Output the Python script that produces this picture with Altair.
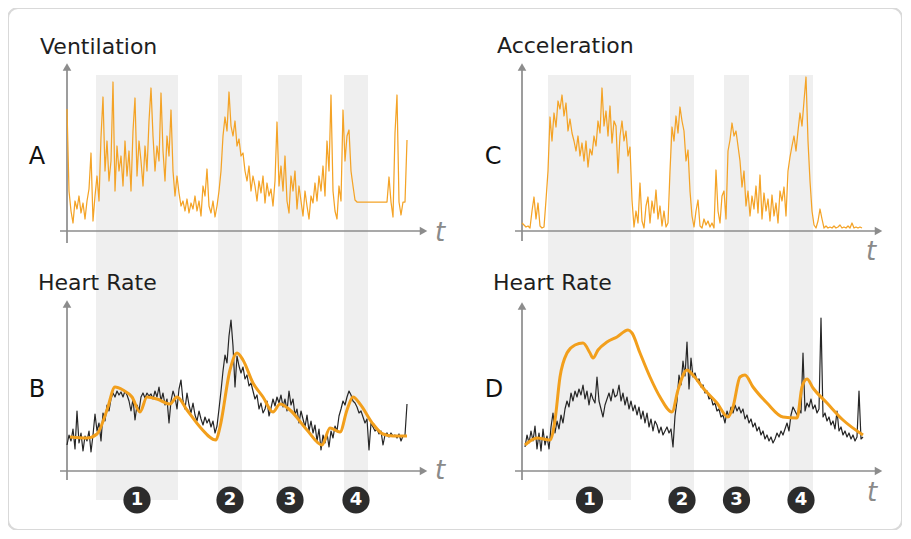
import altair as alt
import pandas as pd

# ---------------- data (time in panel units 0..360, values in panel units) ----------------
BANDS_LEFT_START = [29, 151, 211, 277]
BANDS_LEFT_END = [111, 175, 235, 301]
BANDS_RIGHT_START = [26, 148, 202, 267]
BANDS_RIGHT_END = [109, 172, 227, 291]
BAND_LABELS = ["1", "2", "3", "4"]

# Ventilation (panel A), sampled every 2 time units from t=0
VENT_START, VENT_STEP = 0, 2
VENT = [
    122, 40, 20, 8, 30, 22, 35, 18, 28, 12,
    30, 42, 78, 10, 35, 55, 30, 94, 134, 60,
    90, 50, 70, 149, 40, 85, 60, 75, 45, 90,
    55, 80, 40, 100, 133, 55, 90, 70, 45, 85,
    60, 110, 143, 95, 60, 85, 70, 138, 80, 50,
    95, 75, 121, 60, 35, 55, 38, 25, 30, 20,
    32, 18, 28, 22, 35, 20, 30, 15, 45, 35,
    62, 25, 18, 30, 14, 25, 40, 60, 95, 114,
    100, 139, 105, 95, 110, 85, 92, 75, 78, 60,
    50, 65, 40, 55, 45, 30, 50, 38, 55, 28,
    48, 35, 42, 25, 50, 109, 45, 65, 40, 75,
    30, 18, 55, 40, 60, 22, 45, 30, 15, 40,
    25, 12, 35, 28, 48, 30, 55, 40, 65, 35,
    90, 60, 136, 40, 20, 12, 45, 30, 121, 70,
    95, 101, 60, 45, 31, 29, 29, 29, 29, 29,
    29, 29, 29, 29, 29, 29, 29, 29, 29, 29,
    29, 54, 29, 14, 98, 136, 29, 16, 29, 29,
    91,
]

# Acceleration (panel C), every 2 time units from t=0
ACC_START, ACC_STEP = 0, 2
ACC = [
    8, 6, 4, 5, 3, 20, 34, 12, 28, 5,
    3, 4, 31, 60, 114, 90, 118, 104, 130, 122,
    136, 115, 128, 100, 112, 98, 90, 80, 95, 75,
    88, 70, 90, 64, 82, 76, 95, 85, 110, 98,
    143, 105, 120, 95, 125, 88, 110, 105, 58, 95,
    110, 90, 100, 75, 84, 31, 4, 20, 8, 48,
    10, 3, 25, 34, 8, 30, 18, 41, 12, 25,
    5, 20, 4, 8, 60, 104, 90, 115, 98, 124,
    110, 100, 70, 81, 40, 15, 4, 20, 31, 5,
    3, 12, 6, 10, 4, 8, 3, 61, 20, 8,
    35, 40, 12, 80, 91, 108, 95, 100, 85, 70,
    44, 60, 25, 40, 15, 35, 22, 45, 18, 56,
    12, 38, 20, 32, 10, 36, 15, 28, 8, 40,
    30, 44, 15, 60, 74, 85, 95, 80, 100, 118,
    105, 130, 154, 90, 50, 20, 6, 3, 10, 22,
    12, 3, 5, 3, 4, 3, 5, 3, 4, 6,
    3, 4, 3, 5, 3, 8, 3, 4, 3, 4,
    3,
]

# Heart rate measured (panel B), every 2 time units from t=0
HRB_START, HRB_STEP = 0, 2
HR_B = [
    26, 36, 30, 42, 22, 60, 28, 38, 20, 35,
    30, 40, 19, 36, 57, 40, 48, 30, 58, 50,
    66, 60, 72, 78, 74, 80, 76, 79, 74, 80,
    76, 70, 60, 72, 51, 66, 60, 74, 78, 73,
    78, 75, 77, 72, 80, 74, 84, 70, 78, 66,
    72, 48, 70, 80, 74, 62, 82, 91, 70, 62,
    78, 66, 58, 68, 56, 50, 60, 52, 46, 54,
    48, 52, 44, 50, 38, 45, 62, 80, 100, 116,
    108, 135, 151, 125, 84, 115, 105, 98, 104, 92,
    96, 85, 88, 80, 72, 76, 62, 68, 58, 62,
    70, 55, 63, 72, 65, 74, 68, 76, 64, 72,
    60, 80, 66, 72, 56, 62, 48, 60, 52, 44,
    56, 40, 50, 38, 46, 30, 42, 21, 36, 28,
    38, 24, 40, 33, 45, 40, 55, 62, 70, 66,
    74, 80, 76, 70, 68, 64, 58, 60, 54, 48,
    52, 21, 48, 44, 40, 42, 37, 40, 26, 36,
    38, 34, 38, 35, 36, 33, 37, 30, 35, 36,
    67,
]

# Heart rate measured (panel D), every 2 time units from t=3
HRD_START, HRD_STEP = 3, 2
HR_D = [
    24, 36, 28, 40, 30, 45, 22, 38, 20, 42,
    26, 35, 22, 44, 58, 38, 50, 42, 56, 48,
    62, 70, 64, 78, 70, 80, 74, 82, 76, 86,
    72, 80, 66, 78, 72, 68, 94, 70, 62, 54,
    66, 72, 78, 70, 82, 74, 76, 86, 70, 78,
    66, 74, 62, 70, 60, 66, 56, 64, 52, 60,
    48, 58, 44, 52, 40, 50, 46, 38, 44, 36,
    40, 44, 38, 42, 24, 55, 70, 96, 86, 110,
    95, 129, 82, 113, 94, 98, 90, 92, 84, 86,
    78, 80, 72, 74, 66, 68, 60, 62, 54, 56,
    48, 60, 54, 64, 58, 66, 60, 64, 58, 62,
    52, 56, 48, 52, 44, 48, 40, 44, 36, 40,
    32, 36, 30, 34, 28, 32, 38, 34, 40, 36,
    42, 48, 40, 56, 64, 60, 56, 62, 58, 118,
    60, 68, 64, 72, 62, 66, 58, 62, 153, 54,
    58, 50, 54, 46, 50, 42, 60, 40, 44, 36,
    40, 34, 38, 32, 36, 30, 34, 80, 32, 34,
]

# Smoothed heart-rate model curves (orange)
MODEL_B_T = [3, 20, 30, 40, 48, 56, 65, 73, 80, 90, 103, 110, 120, 133, 149, 153,
             163, 170, 176, 186, 196, 206, 213, 223, 240, 255, 263, 273, 280, 286,
             293, 306, 316, 326, 340]
MODEL_B = [34, 33, 37, 61, 84, 81, 74, 59, 74, 72, 67, 74, 61, 44, 31, 44,
           101, 118, 111, 88, 74, 59, 67, 61, 41, 26, 43, 39, 61, 74,
           67, 47, 37, 35, 35]
MODEL_D_T = [3, 15, 28, 33, 38, 45, 53, 61, 68, 71, 76, 85, 95, 106, 110, 118,
             128, 138, 150, 156, 165, 171, 181, 195, 206, 211, 218, 223, 231, 245,
             261, 275, 280, 285, 291, 305, 321, 341]
MODEL_D = [26, 33, 31, 51, 94, 118, 126, 128, 118, 113, 121, 129, 134, 141, 138, 118,
           94, 74, 59, 81, 101, 96, 83, 68, 54, 64, 94, 96, 84, 68,
           54, 53, 84, 92, 83, 68, 51, 36]

PANEL_TITLES = ["Ventilation", "Acceleration", "Heart Rate", "Heart Rate"]
PANEL_LETTERS = ["A", "C", "B", "D"]

# ---------------- styling ----------------
ORANGE = "#f4a326"
MODEL_ORANGE = "#f29f1c"
BLACK = "#262626"
AXIS = "#8c8c8c"
BAND = "#efefef"
FONT = "DejaVu Sans"

XL = dict(domain=[0, 360], range=[59, 419], nice=False)
XR = dict(domain=[0, 360], range=[514, 874], nice=False)
YT = dict(domain=[0, 168], range=[223, 55], nice=False)
YB = dict(domain=[0, 171], range=[463, 292], nice=False)


def X(field, sc):
    return alt.X(f"{field}:Q", scale=alt.Scale(**sc), axis=None)


def Y(field, sc):
    return alt.Y(f"{field}:Q", scale=alt.Scale(**sc), axis=None)


def times(start, step, vals):
    return [start + step * i for i in range(len(vals))]


layers = []

# gray bands spanning both panels of a column
for starts, ends, xs in [(BANDS_LEFT_START, BANDS_LEFT_END, XL),
                         (BANDS_RIGHT_START, BANDS_RIGHT_END, XR)]:
    df = pd.DataFrame({"a": starts, "b": ends, "lo": [-29] * 4, "hi": [396] * 4})
    layers.append(alt.Chart(df).mark_rect(color=BAND).encode(
        x=X("a", xs), x2=alt.X2("b"), y=Y("lo", YB), y2=alt.Y2("hi")))

# axes with arrow heads
for xs, ys, top, ybot in [(XL, YT, 168, -12), (XR, YT, 168, -10),
                          (XL, YB, 171, -9), (XR, YB, 169, -9)]:
    rules = pd.DataFrame({"x1": [0, -7], "x2": [0, 357],
                          "y1": [ybot, 0], "y2": [top - 4, 0]})
    layers.append(alt.Chart(rules).mark_rule(color=AXIS, strokeWidth=1.7).encode(
        x=X("x1", xs), x2=alt.X2("x2"), y=Y("y1", ys), y2=alt.Y2("y2")))
    heads = pd.DataFrame({"x": [0, 356.5], "y": [top - 4, 0],
                          "shape": ["triangle-up", "triangle-right"]})
    layers.append(alt.Chart(heads).mark_point(filled=True, size=75, color=AXIS, opacity=1).encode(
        x=X("x", xs), y=Y("y", ys), shape=alt.Shape("shape:N", scale=None)))

# series
def series(ts, vs, xs, ys, color, width, interp="linear"):
    df = pd.DataFrame({"t": ts, "v": vs})
    return alt.Chart(df).mark_line(color=color, strokeWidth=width, interpolate=interp,
                                   strokeJoin="round").encode(x=X("t", xs), y=Y("v", ys))

layers.append(series(times(VENT_START, VENT_STEP, VENT), VENT, XL, YT, ORANGE, 1.25))
layers.append(series(times(ACC_START, ACC_STEP, ACC), ACC, XR, YT, ORANGE, 1.25))
layers.append(series(times(HRB_START, HRB_STEP, HR_B), HR_B, XL, YB, BLACK, 1.2))
layers.append(series(times(HRD_START, HRD_STEP, HR_D), HR_D, XR, YB, BLACK, 1.2))
layers.append(series(MODEL_B_T, MODEL_B, XL, YB, MODEL_ORANGE, 3, "monotone"))
layers.append(series(MODEL_D_T, MODEL_D, XR, YB, MODEL_ORANGE, 3, "monotone"))

# titles, panel letters, t labels
ann = [
    (XL, YT, PANEL_TITLES[0], -27, 177, PANEL_LETTERS[0], -30, 74, 373, -2),
    (XR, YT, PANEL_TITLES[1], -25, 178, PANEL_LETTERS[1], -29, 74, 349, -21),
    (XL, YB, PANEL_TITLES[2], -29, 181, PANEL_LETTERS[2], -30, 81, 373, 0),
    (XR, YB, PANEL_TITLES[3], -29, 181, PANEL_LETTERS[3], -28, 81, 350, -22),
]
for xs, ys, title, tx, ty, letter, lx, ly, vx, vy in ann:
    layers.append(alt.Chart(pd.DataFrame({"x": [tx], "y": [ty], "s": [title]})).mark_text(
        font=FONT, fontSize=22, align="left", baseline="alphabetic", color="#1e1e1e").encode(
        x=X("x", xs), y=Y("y", ys), text="s:N"))
    layers.append(alt.Chart(pd.DataFrame({"x": [lx], "y": [ly], "s": [letter]})).mark_text(
        font=FONT, fontSize=24, align="center", baseline="middle", color="#111111").encode(
        x=X("x", xs), y=Y("y", ys), text="s:N"))
    layers.append(alt.Chart(pd.DataFrame({"x": [vx], "y": [vy], "s": ["t"]})).mark_text(
        font=FONT, fontSize=26, fontStyle="italic", align="center", baseline="middle",
        color="#8a8a8a").encode(x=X("x", xs), y=Y("y", ys), text="s:N"))

# numbered circles under the bands
for starts, ends, xs in [(BANDS_LEFT_START, BANDS_LEFT_END, XL),
                         (BANDS_RIGHT_START, BANDS_RIGHT_END, XR)]:
    df = pd.DataFrame({"c": [(a + b) / 2 for a, b in zip(starts, ends)],
                       "y": [-29] * 4, "s": BAND_LABELS})
    layers.append(alt.Chart(df).mark_circle(size=740, color="#2c2c2c", opacity=1).encode(
        x=X("c", xs), y=Y("y", YB)))
    layers.append(alt.Chart(df).mark_text(font=FONT, fontSize=18, fontWeight="bold",
                                          color="white", align="center", baseline="middle").encode(
        x=X("c", xs), y=Y("y", YB), text="s:N"))

chart = alt.layer(*layers).resolve_scale(x="independent", y="independent").properties(
    width=894, height=522, autosize=alt.AutoSizeParams(type="none"), padding=0,
    background="white",
).configure_view(stroke="#d9d9d9", strokeWidth=2, cornerRadius=10)

chart.save("out.html", embed_options={"renderer": "svg", "actions": False})
